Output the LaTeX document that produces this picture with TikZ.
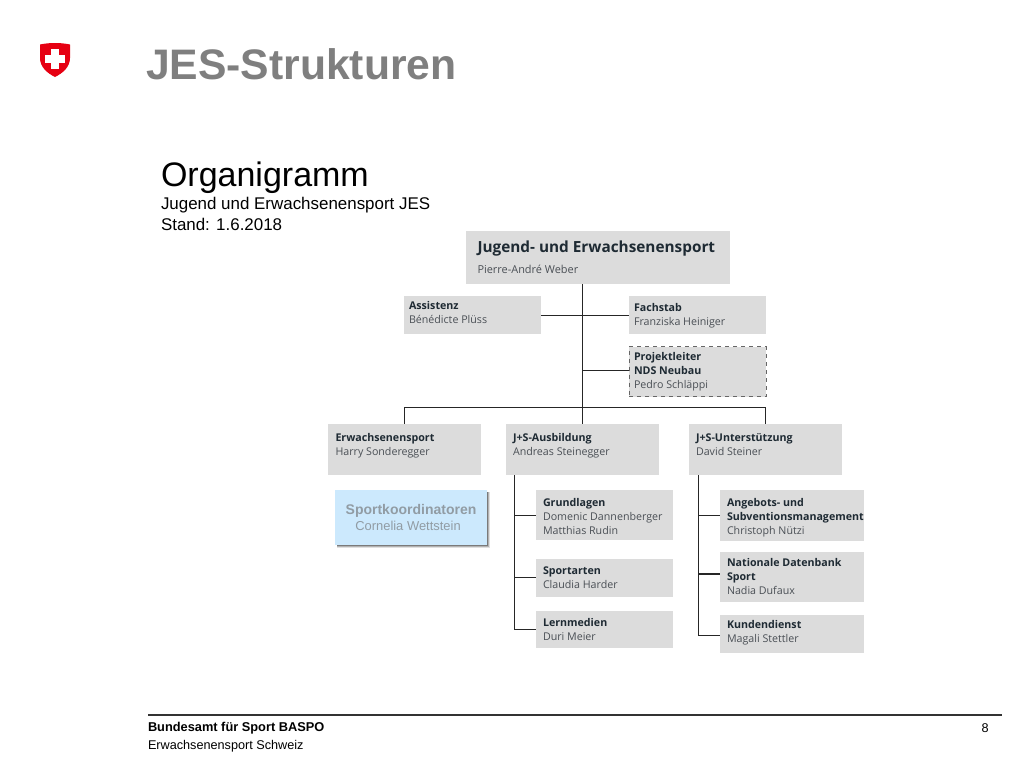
\documentclass[tikz,border=0pt]{standalone}
\usepackage{fontspec}
\setmainfont{Liberation Sans}
\newfontfamily\orgfont{Open Sans}
\usetikzlibrary{calc}
\definecolor{boxgray}{HTML}{DCDCDC}
\definecolor{titlegray}{HTML}{7F7F7F}
\definecolor{swissred}{HTML}{E60012}
\definecolor{sportblue}{HTML}{CCE9FD}
\definecolor{sporttext}{HTML}{919CA4}
\definecolor{orgdark}{HTML}{1E2A33}
\definecolor{orgname}{HTML}{4A4F55}
\tikzset{
  orgbox/.style={fill=boxgray,draw=none,inner sep=0pt,outer sep=0pt},
  orglabel/.style={anchor=north west,inner sep=0pt,outer sep=0pt,align=left,text=orgname,font=\orgfont\fontsize{8}{10.5}\selectfont},
  link/.style={draw=black!85,line width=1pt},
  plain/.style={anchor=base west,inner sep=0pt,outer sep=0pt,text=black}
}
\newcommand{\bx}[1]{{\bfseries\color{orgdark}#1}}
\newcommand{\orgitem}[8]{% name x1 y1 x2 y2 textx texty text
  \node[orgbox,minimum width=#4*0.75pt-#2*0.75pt,minimum height=#5*0.75pt-#3*0.75pt,anchor=north west] (#1) at (#2,#3) {};
  \node[orglabel] (#1t) at (#6,#7) {#8};
}
\begin{document}
\begin{tikzpicture}[x=0.75pt,y=-0.75pt]
\useasboundingbox (0,0) rectangle (1024,768);
\fill[white] (0,0) rectangle (1024,768);
% shield
\fill[swissred] (40,44.5) .. controls (49,42.5) and (61,42.5) .. (70,44.5) -- (70,58) .. controls (70,67) and (63,73) .. (55,77) .. controls (47,73) and (40,67) .. (40,58) -- cycle;
\fill[white] (50.8,48.5) rectangle (59.2,68.5);
\fill[white] (45,54.5) rectangle (65,62.5);
% titles
\node[plain,text=titlegray,font=\bfseries\fontsize{32}{36}\selectfont] (title) at (146,79) {JES-Strukturen};
\node[plain,font=\fontsize{25.5}{30}\selectfont] (orga) at (161,186) {Organigramm};
\node[plain,font=\fontsize{12.7}{14}\selectfont] (sub1) at (161,209) {Jugend und Erwachsenensport JES};
\node[plain,font=\fontsize{12.7}{14}\selectfont] (sub2) at (161,230) {Stand: 1.6.2018};
% boxes
\node[orgbox,minimum width=264.5*0.75pt,minimum height=53*0.75pt,anchor=north west] (top) at (465.5,231) {};
\node[orglabel,font=\orgfont\bfseries\fontsize{11.5}{14}\selectfont,text=orgdark] (topa) at (477.5,241) {Jugend- und Erwachsenensport};
\node[orglabel,font=\orgfont\fontsize{8.2}{10}\selectfont] (topb) at (477.5,265) {Pierre-André Weber};
\orgitem{assist}{404}{296}{541}{334}{409}{301.5}{\bx{Assistenz}\\Bénédicte Plüss}
\orgitem{fach}{629}{296}{766}{334}{634}{303.5}{\bx{Fachstab}\\Franziska Heiniger}
\node[orgbox,draw=black!60,dashed,line width=0.6pt,minimum width=137*0.75pt,minimum height=50*0.75pt,anchor=north west] (proj) at (629,346.5) {};
\node[orglabel] (projt) at (634,352.5) {\bx{Projektleiter}\\\bx{NDS Neubau}\\Pedro Schläppi};
\orgitem{erw}{327.5}{424}{480.5}{475}{335.5}{433.5}{\bx{Erwachsenensport}\\Harry Sonderegger}
\orgitem{aus}{506}{424}{659}{475}{513}{433.5}{\bx{J+S-Ausbildung}\\Andreas Steinegger}
\orgitem{unt}{689}{424}{842}{475}{696}{433.5}{\bx{J+S-Unterstützung}\\David Steiner}
\orgitem{grund}{536}{490}{673}{540}{543}{498.5}{\bx{Grundlagen}\\Domenic Dannenberger\\Matthias Rudin}
\orgitem{sporta}{536}{559}{673}{597}{543}{566.5}{\bx{Sportarten}\\Claudia Harder}
\orgitem{lern}{536}{611}{673}{648}{543}{618.5}{\bx{Lernmedien}\\Duri Meier}
\orgitem{angeb}{720}{490}{864}{541}{727}{498}{\bx{Angebots- und}\\\bx{Subventionsmanagement}\\Christoph Nützi}
\orgitem{nat}{720}{552}{864}{602}{727}{558.5}{\bx{Nationale Datenbank}\\\bx{Sport}\\Nadia Dufaux}
\orgitem{kund}{720}{615}{864}{653}{727}{620.5}{\bx{Kundendienst}\\Magali Stettler}
% sport coordinators
\fill[black!12] (337,492) rectangle (490,548);
\fill[black!30] (337,492) rectangle (489,547);
\fill[black!52] (337,492) rectangle (488,546);
\node[fill=sportblue,inner sep=0pt,outer sep=0pt,minimum width=152*0.75pt,minimum height=55*0.75pt,anchor=north west] (koord) at (334.5,489.5) {};
\node[anchor=base,inner sep=0pt,text=sporttext,font=\bfseries\fontsize{10.5}{12}\selectfont] (koorda) at (411,514.5) {Sportkoordinatoren};
\node[anchor=base,inner sep=0pt,text=sporttext,font=\fontsize{9.7}{11}\selectfont] (koordb) at (408,530.5) {Cornelia Wettstein};
% connectors
\coordinate (hub) at (582.5,407.5);
\coordinate (busL) at (404.5,407.5);
\coordinate (busR) at (765.5,407.5);
\coordinate (assistend) at ($(assist.east)+(0,0.5)$);
\coordinate (fachend) at ($(fach.west)+(0,0.5)$);
\coordinate (projend) at ($(proj.west)+(0,-1)$);
\draw[link] (top.south -| hub) -- (aus.north -| hub);
\draw[link] (assistend) -- (fachend);
\draw[link] (hub |- projend) -- (projend);
\draw[link,line cap=rect] (busL) -- (busR);
\draw[link] (busL) -- (busL |- erw.north);
\draw[link] (busR) -- (busR |- unt.north);
\coordinate (ta) at (514.5,475);
\coordinate (tu) at (698.5,475);
\coordinate (grundend) at ($(grund.west)+(0,0.5)$);
\coordinate (sportend) at ($(sporta.west)+(0,-0.5)$);
\coordinate (lernend) at ($(lern.west)+(0,0)$);
\coordinate (angebend) at ($(angeb.west)+(0,0)$);
\coordinate (natend) at ($(nat.west)+(0,-3)$);
\coordinate (kundend) at ($(kund.west)+(0,1.5)$);
\draw[link] (ta) |- (lernend);
\draw[link] (ta |- grundend) -- (grundend);
\draw[link] (ta |- sportend) -- (sportend);
\draw[link] (tu) |- (kundend);
\draw[link] (tu |- angebend) -- (angebend);
\draw[link] (tu |- natend) -- (natend);
% footer
\coordinate (fl) at (148,715);
\coordinate (fr) at (1002,715);
\draw[black!80,line width=1pt] (fl) -- (fr);
\node[plain,font=\bfseries\fontsize{9.6}{11}\selectfont] (foot1) at (148,731) {Bundesamt für Sport BASPO};
\node[plain,font=\fontsize{9.5}{11}\selectfont] (foot2) at (148,749) {Erwachsenensport Schweiz};
\node[anchor=base east,inner sep=0pt,font=\fontsize{9.5}{11}\selectfont] (page) at (989,732) {8};
\end{tikzpicture}
\end{document}
